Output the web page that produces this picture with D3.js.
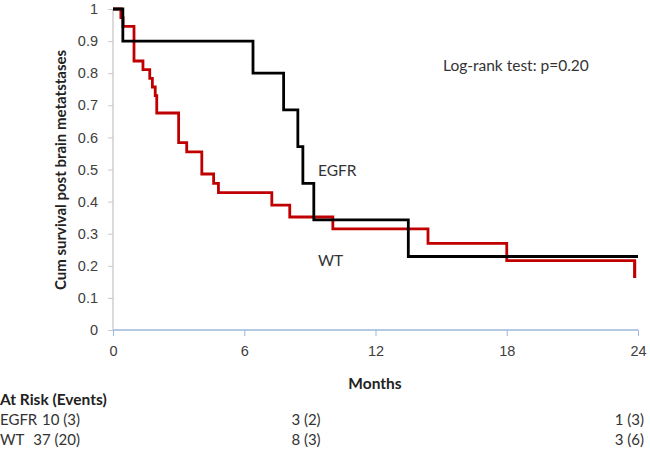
<!DOCTYPE html>
<html>
<head>
<meta charset="utf-8">
<script src="https://cdn.jsdelivr.net/npm/d3@7"></script>
<style>
  body { margin: 0; background: #fff; }
  svg { font-family: Lato, "Open Sans", sans-serif; }
</style>
</head>
<body>
<svg id="chart" width="650" height="456"></svg>
<script>
// Kaplan-Meier steps: [month, survival]
var egfrSteps = [[0, 1], [0.45, 0.9], [6.4, 0.8], [7.8, 0.686], [8.45, 0.571], [8.68, 0.457], [9.18, 0.343], [13.5, 0.229], [24, 0.229]];
var wtSteps = [[0, 1], [0.36, 0.973], [0.46, 0.946], [0.96, 0.838], [1.37, 0.811], [1.68, 0.784], [1.8, 0.757], [1.93, 0.73], [2.0, 0.676],
  [3.0, 0.584], [3.37, 0.555], [4.06, 0.486], [4.6, 0.457], [4.82, 0.428], [7.26, 0.389], [8.08, 0.352], [10.05, 0.315],
  [14.4, 0.27], [18.0, 0.216], [23.85, 0.162], [23.85, 0.162]];
var xTicks = [0, 6, 12, 18, 24];
var yTicks = [0, 0.1, 0.2, 0.3, 0.4, 0.5, 0.6, 0.7, 0.8, 0.9, 1];
var riskRows = ["EGFR", "WT"];
var riskStart = ["10 (3)", "37 (20)"];
var riskMid = ["3 (2)", "8 (3)"];
var riskEnd = ["1 (3)", "3 (6)"];

var svg = d3.select("#chart");
var x = d3.scaleLinear().domain([0, 24]).range([113, 638]);
var y = d3.scaleLinear().domain([0, 1]).range([330, 9]);

// Axes
var gx = svg.append("g").attr("transform", "translate(0,330)")
  .call(d3.axisBottom(x).tickValues(xTicks).tickSize(6).tickPadding(10).tickFormat(d3.format("d")));
gx.select(".domain").attr("stroke", "#9bb7de").attr("stroke-width", 1.3).attr("d", "M113,0H638");
gx.selectAll(".tick line").attr("stroke", "#9bb7de").attr("y1", 0);
gx.selectAll(".tick text").attr("fill", "#404040").attr("font-size", 14.5);

var gy = svg.append("g").attr("transform", "translate(113,0)")
  .call(d3.axisLeft(y).tickValues(yTicks).tickSize(5).tickPadding(10).tickFormat(d3.format("")));
gy.select(".domain").attr("stroke", "#c8c8c8").attr("stroke-width", 1.3).attr("d", "M0,9V330");
gy.selectAll(".tick line").attr("stroke", "#c8c8c8");
gy.selectAll(".tick text").attr("fill", "#404040").attr("font-size", 14.5);

// Curves
var line = d3.line().x(function(d) { return x(d[0]); }).y(function(d) { return y(d[1]); }).curve(d3.curveStepAfter);
svg.append("path").datum(wtSteps).attr("d", line)
  .attr("fill", "none").attr("stroke", "#c00000").attr("stroke-width", 2.8);
svg.append("path").datum(egfrSteps).attr("d", line)
  .attr("fill", "none").attr("stroke", "#000").attr("stroke-width", 2.8);
// WT final drop at 24 months
svg.append("line").attr("x1", x(23.85)).attr("x2", x(23.85)).attr("y1", y(0.216)).attr("y2", y(0.162))
  .attr("stroke", "#c00000").attr("stroke-width", 2.8);

// Labels
svg.append("text").attr("x", 443).attr("y", 71).attr("font-size", 15.5).attr("fill", "#333").text("Log-rank test: p=0.20");
svg.append("text").attr("x", 318).attr("y", 176).attr("font-size", 15.5).attr("fill", "#333").text("EGFR");
svg.append("text").attr("x", 318).attr("y", 266).attr("font-size", 15.5).attr("fill", "#333").text("WT");

svg.append("text").attr("transform", "translate(66,170) rotate(-90)").attr("text-anchor", "middle")
  .attr("font-size", 15).attr("font-weight", "bold").attr("fill", "#222").text("Cum survival post brain metatstases");
svg.append("text").attr("x", 375).attr("y", 389).attr("text-anchor", "middle")
  .attr("font-size", 15.5).attr("font-weight", "bold").attr("fill", "#222").text("Months");

// At risk table
svg.append("text").attr("x", 0).attr("y", 405).attr("font-size", 15.5).attr("font-weight", "bold").attr("fill", "#222").text("At Risk (Events)");
riskRows.forEach(function(r, i) {
  var yy = 425 + i * 20;
  svg.append("text").attr("x", 0).attr("y", yy).attr("font-size", 15).attr("fill", "#333").text(r);
  svg.append("text").attr("x", 80).attr("y", yy).attr("text-anchor", "end").attr("font-size", 15).attr("fill", "#333").text(riskStart[i]);
  svg.append("text").attr("x", 306).attr("y", yy).attr("text-anchor", "middle").attr("font-size", 15).attr("fill", "#333").text(riskMid[i]);
  svg.append("text").attr("x", 644).attr("y", yy).attr("text-anchor", "end").attr("font-size", 15).attr("fill", "#333").text(riskEnd[i]);
});
</script>
</body>
</html>
